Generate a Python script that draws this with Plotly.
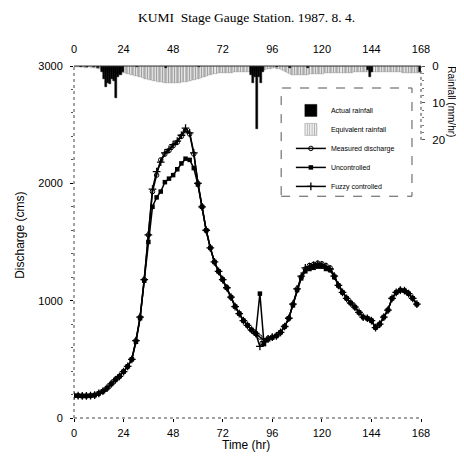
import plotly.graph_objects as go

# ---------------- data ----------------
hours = list(range(0, 168, 2))  # discharge sample times (hr)

measured = [190, 190, 188, 188, 190, 195, 210, 228, 255, 290, 325, 355,
            395, 440, 500, 660, 860, 1180, 1560, 1930, 2070, 2200, 2250, 2280,
            2320, 2350, 2400, 2450, 2420, 2250, 2000, 1800, 1600, 1450, 1330, 1250,
            1180, 1110, 1030, 950, 890, 830, 790, 750, 720, 690, 660, 680,
            690, 700, 730, 780, 850, 970, 1100, 1200, 1270, 1300, 1310, 1320,
            1315, 1300, 1280, 1210, 1130, 1070, 1020, 980, 945, 900, 860, 850,
            830, 770, 800, 860, 920, 1020, 1070, 1090, 1085, 1060, 1020, 970]

uncontrolled = [190, 190, 188, 188, 190, 195, 210, 228, 255, 290, 325, 355,
                395, 440, 500, 650, 850, 1170, 1500, 1800, 1880, 1930, 2010, 2040,
                2070, 2120, 2170, 2210, 2200, 2130, 1990, 1800, 1600, 1450, 1330, 1250,
                1180, 1110, 1030, 950, 890, 830, 790, 750, 720, 1060, 630, 670,
                685, 700, 730, 780, 850, 960, 1090, 1190, 1250, 1270, 1280, 1290,
                1290, 1270, 1260, 1200, 1130, 1070, 1020, 980, 945, 900, 860, 850,
                830, 770, 800, 860, 920, 1020, 1070, 1090, 1085, 1060, 1020, 970]

fuzzy = [190, 190, 188, 188, 190, 195, 210, 228, 255, 290, 325, 355,
         395, 440, 500, 660, 860, 1180, 1560, 1950, 2100, 2180, 2260, 2290,
         2330, 2360, 2410, 2470, 2430, 2260, 2000, 1800, 1600, 1450, 1330, 1250,
         1180, 1110, 1030, 950, 890, 830, 790, 750, 720, 610, 650, 675,
         690, 700, 730, 780, 850, 970, 1100, 1210, 1280, 1290, 1300, 1310,
         1305, 1290, 1270, 1210, 1130, 1070, 1020, 980, 945, 900, 860, 850,
         830, 770, 800, 860, 920, 1020, 1070, 1090, 1085, 1060, 1020, 970]

rain_hours = list(range(168))
equivalent_rain = [
    0.3, 0.3, 0.4, 0.4, 0.3, 0.5, 0.5, 0.4, 0.6, 0.5, 0.6, 0.7,
    0.8, 1.0, 1.2, 1.3, 1.5, 1.6, 1.8, 1.8, 1.9, 2.0, 2.0, 2.0,
    2.0, 2.1, 2.2, 2.3, 2.5, 2.6, 2.8, 3.0, 3.1, 3.3, 3.4, 3.6,
    3.7, 3.9, 4.0, 4.1, 4.2, 4.3, 4.4, 4.5, 4.5, 4.6, 4.6, 4.6,
    4.6, 4.6, 4.5, 4.5, 4.4, 4.3, 4.2, 4.1, 4.0, 3.9, 3.8, 3.6,
    3.5, 3.3, 3.1, 2.9, 2.7, 2.5, 2.3, 2.2, 2.1, 2.0, 2.0, 2.0,
    2.0, 1.9, 1.9, 1.8, 1.8, 1.7, 1.7, 1.6, 1.6, 1.6, 1.6, 1.6,
    1.5, 1.5, 1.4, 1.4, 1.3, 1.3, 1.2, 1.1, 1.0, 0.9, 0.8, 0.7,
    0.6, 0.6, 0.7, 0.9, 1.1, 1.4, 1.7, 2.0, 2.2, 2.4, 2.5, 2.5,
    2.5, 2.5, 2.4, 2.4, 2.3, 2.3, 2.2, 2.2, 2.2, 2.1, 2.1, 2.1,
    2.1, 2.0, 2.0, 2.0, 2.0, 2.0, 2.0, 1.9, 1.9, 1.9, 1.9, 1.8,
    1.8, 1.8, 1.8, 1.7, 1.7, 1.7, 1.7, 1.6, 1.6, 1.6, 1.6, 1.6,
    1.6, 1.6, 1.6, 1.6, 1.6, 1.6, 1.6, 1.6, 1.6, 1.6, 1.6, 1.6,
    1.7, 1.7, 1.7, 1.8, 1.8, 1.8, 1.9, 1.9, 1.9, 2.0, 2.0, 2.0]

actual_hours = [3, 6, 9, 11, 13, 14, 15, 16, 17, 18, 19, 20, 21, 22, 23,
                30, 44, 60, 85, 86, 87, 88, 89, 90, 91, 98, 104, 113,
                142, 143, 144, 167]
actual_rain = [0.3, 0.4, 0.3, 0.5, 1.5, 3.5, 5.7, 4.5, 4.8, 3.5, 4.0, 8.6, 3.0, 2.5, 1.5,
               0.4, 0.5, 0.4, 2.5, 4.6, 3.0, 17.0, 3.0, 4.5, 1.5, 0.4, 0.5, 0.6,
               1.0, 3.0, 1.5, 1.5]

x_ticks = [0, 24, 48, 72, 96, 120, 144, 168]
q_ticks = [0, 1000, 2000, 3000]
r_ticks = [0, 10, 20]

title_text = "KUMI  Stage Gauge Station. 1987. 8. 4."

# ---------------- figure ----------------
SANS = "Liberation Sans, Arial, sans-serif"
fig = go.Figure()

fig.add_trace(go.Bar(
    x=[h + 0.5 for h in rain_hours], y=equivalent_rain, width=1, yaxis="y2",
    name="Equivalent rainfall", legendrank=2,
    marker=dict(color="white", line=dict(color="#808080", width=0.4),
                pattern=dict(shape="|", fgcolor="#666666", bgcolor="white", size=3, solidity=0.5)),
))
fig.add_trace(go.Bar(
    x=[h + 0.5 for h in actual_hours], y=actual_rain, width=1, yaxis="y2",
    name="Actual rainfall", legendrank=1,
    marker=dict(color="black", line=dict(color="black", width=0.5)),
))
fig.add_trace(go.Scatter(
    x=hours, y=measured, mode="lines+markers", name="Measured discharge", legendrank=3,
    line=dict(color="black", width=1.5),
    marker=dict(symbol="circle-open", size=4.5, color="black", line=dict(width=1)),
))
fig.add_trace(go.Scatter(
    x=hours, y=uncontrolled, mode="lines+markers", name="Uncontrolled", legendrank=4,
    line=dict(color="black", width=1.5),
    marker=dict(symbol="square", size=4.5, color="black"),
))
fig.add_trace(go.Scatter(
    x=hours, y=fuzzy, mode="lines+markers", name="Fuzzy controlled", legendrank=5,
    line=dict(color="black", width=1.5),
    marker=dict(symbol="cross-thin", size=5.5, color="black", line=dict(width=1.3, color="black")),
))

axis_font = dict(family=SANS, size=11, color="black")

fig.update_layout(
    width=448, height=444,
    margin=dict(l=66, r=35, t=58, b=34),
    paper_bgcolor="white", plot_bgcolor="rgba(0,0,0,0)",
    barmode="overlay", bargap=0,
    showlegend=True,
    legend=dict(x=0.625, y=0.915, xanchor="left", yanchor="top",
                font=dict(family=SANS, size=7, color="black"),
                bgcolor="rgba(0,0,0,0)", borderwidth=0, itemwidth=30,
                tracegroupgap=0, traceorder="normal"),
    xaxis=dict(range=[0, 168], tickvals=x_ticks, ticks="outside", ticklen=3,
               tickcolor="black", tickfont=axis_font, showgrid=False, zeroline=False,
               showline=False, ticklabelstandoff=2),
    xaxis2=dict(range=[0, 168], tickvals=x_ticks, overlaying="x", side="top", anchor="y",
                ticks="", tickfont=axis_font, showgrid=False, zeroline=False, showline=False,
                ticklabelstandoff=10),
    yaxis=dict(range=[0, 3000], tickvals=q_ticks, ticks="outside", ticklen=3,
               tickcolor="black", tickfont=axis_font, showgrid=False, zeroline=False,
               showline=False, ticklabelstandoff=5,
               minor=dict(dtick=200, ticks="outside", ticklen=2, tickcolor="#555")),
    yaxis2=dict(domain=[0.79, 1.0], range=[20, 0], tickvals=r_ticks, side="right",
                anchor="x", ticks="outside", ticklen=3, tickcolor="#555",
                tickfont=dict(family=SANS, size=11.5, color="black"),
                showgrid=False, zeroline=False, showline=False, ticklabelstandoff=5,
                minor=dict(dtick=2, ticks="outside", ticklen=2, tickcolor="#777")),
)

# invisible trace so the top axis renders
fig.add_trace(go.Scatter(x=[0, 168], y=[0, 0], xaxis="x2", mode="markers",
                         marker=dict(opacity=0), showlegend=False, hoverinfo="skip"))

shapes = [
    dict(type="line", xref="paper", yref="paper", x0=0, x1=0, y0=0, y1=1,
         line=dict(color="#444", width=1, dash="dot")),
    dict(type="line", xref="paper", yref="paper", x0=0, x1=1, y0=0, y1=0,
         line=dict(color="#444", width=1, dash="dot")),
    dict(type="line", xref="paper", yref="paper", x0=1, x1=1, y0=0.79, y1=1,
         line=dict(color="#444", width=1, dash="dot")),
    dict(type="line", xref="paper", yref="paper", x0=0, x1=1, y0=1, y1=1,
         line=dict(color="#333", width=1)),
    dict(type="rect", xref="paper", yref="paper", x0=0.597, x1=0.974, y0=0.63, y1=0.9375,
         line=dict(color="#555", width=1, dash="dash")),
]
fig.update_layout(shapes=shapes)

annotations = [
    dict(text=title_text, xref="paper", yref="paper", x=0.496, y=1.139,
         xanchor="center", yanchor="middle", showarrow=False,
         font=dict(family="Liberation Serif, Times New Roman, serif", size=13.5, color="black")),
    dict(text="Discharge (cms)", xref="paper", yref="paper", x=-0.156, y=0.52,
         xanchor="center", yanchor="middle", textangle=-90, showarrow=False,
         font=dict(family=SANS, size=12, color="black")),
    dict(text="Time (hr)", xref="paper", yref="paper", x=0.497, y=-0.077,
         xanchor="center", yanchor="middle", showarrow=False,
         font=dict(family=SANS, size=12, color="black")),
    dict(text="Rainfall (mm/hr)", xref="paper", yref="paper", x=1.0855, y=0.898,
         xanchor="center", yanchor="middle", textangle=90, showarrow=False,
         font=dict(family=SANS, size=10, color="black")),
]
fig.update_layout(annotations=annotations)

fig.write_html("out.html")
